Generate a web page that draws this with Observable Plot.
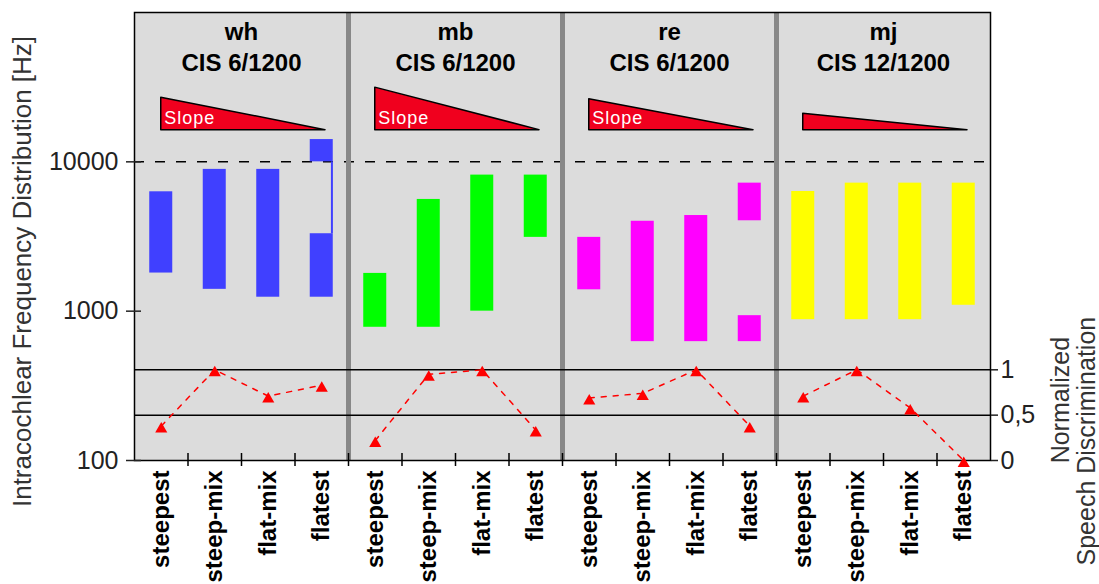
<!DOCTYPE html>
<html><head><meta charset="utf-8">
<script src="https://cdn.jsdelivr.net/npm/d3@7"></script>
<script src="https://cdn.jsdelivr.net/npm/@observablehq/plot@0.6"></script>
<style>
html,body{margin:0;padding:0;background:#fff;overflow:hidden;}
#chart{position:relative;width:1099px;height:584px;}
#chart svg{position:absolute;left:0;top:0;}
</style></head><body><div id="chart"></div>
<script>
// ---- data ----
const subjects = ["wh", "mb", "re", "mj"];
const strategies = ["CIS 6/1200", "CIS 6/1200", "CIS 6/1200", "CIS 12/1200"];
const conditions = ["steepest", "steep-mix", "flat-mix", "flatest"];
const barColors = ["#4040ff", "#00ff00", "#ff00ff", "#ffff00"];
// frequency range (Hz) of each condition, main segment
const freqLow  = [[1800, 1400, 1240, 1240], [780, 780, 1000, 3120], [1390, 625, 625, 625], [877, 877, 877, 1095]];
const freqHigh = [[6300, 8900, 8900, 3300], [1790, 5600, 8150, 8150], [3120, 4000, 4370, 933], [6330, 7200, 7200, 7200]];
// additional upper segments
const extraSubject = ["wh", "re"];
const extraCondition = ["flatest", "flatest"];
const extraLow = [10000, 4030];
const extraHigh = [14100, 7200];
// thin connector between segments
const connSubject = ["wh"];
const connCondition = ["flatest"];
const connLow = [3300];
const connHigh = [10000];
// normalized speech discrimination
const speech = [[0.38, 1.0, 0.71, 0.83], [0.22, 0.95, 1.0, 0.335], [0.69, 0.74, 1.0, 0.38], [0.71, 1.0, 0.58, 0.0]];
// slope indicator heights (Hz-equivalent on the log axis)
const slopeTop = [26900, 31400, 26250, 21000];
const slopeBase = 16300;
const slopeLabelled = [true, true, true, false];
const refFreq = 10000;
const speechRefs = [0.5, 1];
const freqTicks = [100, 1000, 10000];
const speechTicks = [0, 0.5, 1];

// ---- derived tables ----
const idx = (s, c) => subjects.indexOf(s) * 4 + conditions.indexOf(c);
const bars = [];
subjects.forEach((s, si) => conditions.forEach((c, ci) => {
  bars.push({i: si * 4 + ci, lo: freqLow[si][ci], hi: freqHigh[si][ci], color: barColors[si]});
}));
extraSubject.forEach((s, k) => bars.push({i: idx(s, extraCondition[k]), lo: extraLow[k], hi: extraHigh[k], color: barColors[subjects.indexOf(s)]}));
const conns = connSubject.map((s, k) => ({i: idx(s, connCondition[k]), lo: connLow[k], hi: connHigh[k], color: barColors[subjects.indexOf(s)]}));
const speechData = [];
subjects.forEach((s, si) => conditions.forEach((c, ci) => speechData.push({s, i: si * 4 + ci, v: speech[si][ci]})));
const slopePts = subjects.flatMap((s, si) => [
  {s, x: si * 4, y1: slopeBase, y2: slopeTop[si]},
  {s, x: si * 4 + 3.07, y1: slopeBase, y2: slopeBase}
]);
const slopeLabels = subjects.map((s, si) => ({s, x: si * 4})).filter((d, si) => slopeLabelled[si]);
const panels = subjects.map((s, si) => ({center: si * 4 + 1.5, text: s + "\n" + strategies[si]}));
const separators = [3.5, 7.5, 11.5];
const tickBounds = d3.range(0.5, 15, 1);

const W = 1099, H = 584;
const xDomain = [-0.5, 15.5];
const font = "'Liberation Sans', Arial, sans-serif";

const main = Plot.plot({
  width: W, height: H,
  marginLeft: 134, marginRight: 109, marginTop: 12, marginBottom: 124,
  x: {domain: xDomain, axis: null},
  y: {type: "log", domain: [100, 100000], axis: null},
  color: {type: "identity"},
  style: {fontFamily: font, background: "transparent"},
  marks: [
    Plot.frame({fill: "#dcdcdc"}),
    Plot.ruleY([refFreq], {stroke: "#000", strokeWidth: 1.5, strokeDasharray: "10,11"}),
    Plot.rect(bars, {x1: d => d.i - 0.215, x2: d => d.i + 0.215, y1: "lo", y2: "hi", fill: "color"}),
    Plot.ruleX(conns, {x: d => d.i + 0.19, y1: "lo", y2: "hi", stroke: "color", strokeWidth: 2}),
    Plot.areaY(slopePts, {x: "x", y1: "y1", y2: "y2", z: "s", fill: "#f0001e", stroke: "#000", strokeWidth: 1.5}),
    Plot.text(slopeLabels, {x: "x", y: () => slopeBase, text: () => "Slope", fill: "#fff", textAnchor: "start", dx: 3, dy: -12, fontSize: 18}),
    Plot.ruleX(separators, {stroke: "#888", strokeWidth: 5}),
    Plot.frame({stroke: "#000", strokeWidth: 1.5}),
    Plot.text(panels, {x: "center", frameAnchor: "top", text: "text", lineAnchor: "top", lineHeight: 1.28, dy: 6, fontSize: 24, fontWeight: "bold", fill: "#000"}),
    Plot.axisY({ticks: freqTicks, tickFormat: d => String(d), tickSize: 15, dx: 7, tickPadding: 8, fontSize: 25, color: "#222", strokeWidth: 1.5, label: null}),
    Plot.axisX({ticks: d3.range(16), tickFormat: i => conditions[i % 4], tickSize: 0, tickRotate: -90, tickPadding: 10, fontSize: 24, fontWeight: "bold", color: "#000", label: null}),
    Plot.axisX({ticks: tickBounds, tickFormat: () => "", tickSize: 13, dy: -7, strokeWidth: 1.5, color: "#000", label: null}),
    Plot.text([0], {frameAnchor: "left", textAnchor: "middle", text: () => "Intracochlear Frequency Distribution [Hz]", rotate: -90, dx: -112, dy: 35, fontSize: 26, fill: "#333"})
  ]
});

const over = Plot.plot({
  width: W, height: H,
  marginLeft: 134, marginRight: 109, marginTop: 369.3, marginBottom: 124,
  x: {domain: xDomain, axis: null},
  y: {domain: [0, 1], axis: null},
  style: {fontFamily: font, background: "transparent"},
  marks: [
    Plot.ruleY(speechRefs, {stroke: "#000", strokeWidth: 1.5}),
    Plot.line(speechData, {x: "i", y: "v", z: "s", stroke: "#ff0000", strokeWidth: 1.5, strokeDasharray: "5,7"}),
    Plot.dot(speechData, {x: "i", y: "v", symbol: "triangle", r: 4.5, fill: "#ff0000", stroke: "none", dy: 3}),
    Plot.axisY({anchor: "right", ticks: speechTicks, tickFormat: d => d === 0.5 ? "0,5" : String(d), tickSize: 7, tickPadding: 3, fontSize: 25, color: "#222", strokeWidth: 1.5, label: null}),
    Plot.text(["Normalized"], {frameAnchor: "right", textAnchor: "middle", text: d => d, rotate: -90, dx: 70, dy: -15, fontSize: 25, fill: "#333"}),
    Plot.text(["Speech Discrimination"], {frameAnchor: "right", textAnchor: "middle", text: d => d, rotate: -90, dx: 96, dy: 26, fontSize: 25, fill: "#333"})
  ]
});

main.querySelectorAll("text").forEach(t => { if (t.textContent === "Slope") t.style.letterSpacing = "1px"; });
const chart = document.getElementById("chart");
chart.appendChild(main);
chart.appendChild(over);
</script>
</body></html>
